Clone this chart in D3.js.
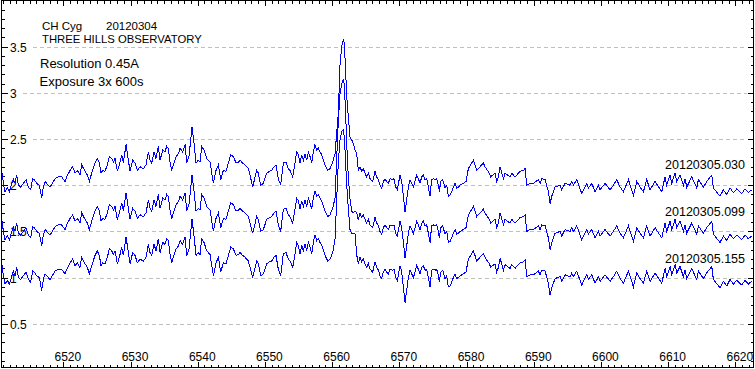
<!DOCTYPE html>
<html><head><meta charset="utf-8">
<script src="https://cdn.jsdelivr.net/npm/d3@7"></script>
<style>body{margin:0;background:#fff}svg{display:block}text{font-family:"Liberation Sans",Arial,sans-serif;fill:#000}</style>
</head><body>
<script>
// ---------- data ----------
const wavelengths = [
6510.80,6511.08,6511.32,6511.67,6511.97,6512.56,6512.81,6513.06,6513.31,6513.66,
6514.05,6514.45,6514.80,6515.14,6515.44,6515.69,6516.04,6516.43,6516.78,6517.03,
6517.28,6517.52,6518.02,6518.52,6518.76,6519.26,6519.76,6520.25,6520.50,6521.00,
6521.39,6521.74,6522.09,6522.48,6522.73,6523.23,6523.58,6523.87,6524.22,6524.72,
6525.06,6525.36,6525.61,6525.86,6526.20,6526.55,6526.85,6527.20,6527.45,6527.69,
6528.04,6528.34,6528.69,6528.93,6529.33,6529.68,6529.93,6530.32,6530.67,6531.02,
6531.41,6531.91,6532.31,6532.65,6532.90,6533.15,6533.50,6533.79,6534.14,6534.39,
6534.79,6535.13,6535.38,6535.63,6535.88,6536.13,6536.37,6536.77,6537.12,6537.37,
6537.76,6538.11,6538.36,6538.70,6538.95,6539.15,6539.45,6539.75,6540.09,6540.34,
6540.59,6540.94,6541.33,6541.83,6542.33,6542.72,6543.07,6543.42,6543.81,6544.21,
6544.56,6544.91,6545.30,6545.70,6546.05,6546.29,6546.69,6547.04,6547.53,6547.78,
6548.18,6548.77,6549.02,6549.37,6549.76,6550.26,6550.66,6551.00,6551.35,6551.65,
6551.99,6552.34,6552.74,6553.14,6553.48,6553.73,6554.13,6554.48,6554.72,6554.97,
6555.22,6555.47,6555.72,6555.96,6556.21,6556.46,6556.71,6556.96,6557.20,6557.45,
6557.70,6557.95,6558.20,6558.44,6558.94,6559.34,6559.68,
6560.08,6560.43,6560.92,6561.18,6561.43,6561.67,6561.82,6562.02,6562.17,6562.41,
6562.66,6562.92,6563.15,6563.41,6563.65,6563.90,
6564.15,6564.40,6564.64,6564.89,6565.14,6565.39,6565.64,6566.03,6566.38,6566.63,
6566.88,6567.12,6567.37,6567.62,6567.87,6568.12,6568.37,6568.61,6569.01,6569.21,
6569.46,6569.70,6570.10,6570.35,6570.60,6570.85,6571.09,6571.34,6571.59,6571.84,
6572.09,6572.33,6572.58,6572.83,6573.08,6573.33,6573.57,6573.82,6574.07,6574.32,
6574.57,6574.81,6575.06,6575.31,6575.56,6575.81,6575.95,6576.15,6576.45,6576.80,
6577.05,6577.29,6577.54,6577.79,6578.04,6578.29,6578.53,6578.78,6579.03,6579.53,
6579.92,6580.27,6580.62,6581.01,6581.26,6581.51,6582.01,6582.50,6582.75,6583.10,
6583.40,6583.59,6583.89,6584.24,6584.49,6584.74,
6584.99,6585.49,6585.73,6586.48,6586.73,6587.22,6587.97,6588.46,6588.71,6588.96,
6589.45,6589.95,6590.69,6590.94,6591.19,6591.69,6592.18,6592.43,6592.68,6593.17,
6593.92,6594.17,6594.66,6595.41,6595.65,6595.90,6596.40,6597.14,6597.89,6598.13,
6598.63,6599.13,6599.62,6599.87,6600.61,6601.36,6601.85,6602.35,6602.85,6603.34,
6604.09,6604.83,6605.33,6605.82,6606.32,6606.81,6607.31,6608.05,6609.05,6609.54,
6609.79,6610.29,6610.53,6611.03,6611.28,6611.77,6612.27,6612.52,6612.76,6613.51,
6614.25,6614.50,6615.25,6615.74,6616.49,6616.73,6617.72,6618.22,6618.72,6619.21,
6619.71,6620.21,6620.95,6621.44,6621.94,6622.44];

const spec030 = [
2.18,2.02,1.93,1.97,1.93,2.07,2.02,2.11,2.00,1.98,
2.02,2.06,1.98,1.95,2.07,2.06,2.02,2.00,1.86,1.98,
2.04,2.02,1.98,2.04,2.07,2.09,2.09,2.04,2.09,2.16,
2.20,2.13,2.16,2.11,2.22,2.15,2.11,2.04,2.13,2.24,
2.29,2.24,2.13,2.16,2.15,2.22,2.31,2.29,2.25,2.29,
2.15,2.22,2.33,2.24,2.44,2.27,2.15,2.27,2.24,2.16,
2.20,2.18,2.22,2.36,2.27,2.24,2.36,2.29,2.42,2.27,
2.38,2.36,2.42,2.40,2.25,2.16,2.22,2.31,2.34,2.40,
2.36,2.44,2.24,2.31,2.49,2.63,2.45,2.24,2.27,2.25,
2.42,2.38,2.29,2.25,2.02,2.16,2.22,2.06,2.16,2.15,
2.24,2.33,2.31,2.24,2.25,2.27,2.24,2.22,2.18,2.11,
1.98,2.16,2.13,2.00,2.02,2.13,2.15,2.16,2.20,2.22,
2.07,2.00,2.24,2.25,2.18,2.16,2.09,2.24,2.36,2.33,
2.24,2.33,2.27,2.34,2.27,2.36,2.31,2.24,2.36,2.44,
2.38,2.40,2.36,2.33,2.22,2.16,2.18,
2.25,2.34,2.78,3.32,3.50,3.58,3.54,3.21,2.96,2.74,
2.52,2.49,2.45,2.38,2.34,2.16,
2.20,2.15,2.18,2.13,2.09,2.13,2.07,2.04,2.15,2.09,
2.06,2.00,1.97,2.04,2.07,2.04,2.02,2.07,2.06,2.07,
1.98,1.95,2.11,2.04,1.88,1.71,1.84,1.98,2.06,2.02,
1.98,2.04,2.11,2.07,2.02,2.09,2.11,2.06,2.07,1.98,
1.88,2.06,2.07,2.06,2.07,2.00,1.93,2.04,2.06,1.97,
2.00,1.88,1.89,1.93,1.98,2.02,1.97,1.98,2.00,2.02,
2.04,2.18,2.22,2.27,2.22,2.16,2.20,2.24,2.20,2.16,
2.13,2.09,2.11,2.13,2.04,2.09,
2.20,2.07,2.13,2.09,2.13,2.09,2.15,2.16,2.18,2.00,
2.02,2.02,2.06,2.02,2.07,2.06,1.93,1.80,1.88,1.98,
2.00,1.95,2.02,2.00,2.04,2.00,2.06,1.91,2.02,1.97,
2.02,1.93,2.00,1.95,2.02,1.95,2.00,2.06,1.98,1.93,
2.06,1.89,2.04,1.98,1.93,2.06,1.95,2.04,1.93,2.09,
2.00,2.11,2.02,2.13,2.04,2.11,2.00,2.07,1.98,2.09,
1.97,2.06,1.98,2.04,2.11,1.97,1.88,1.95,1.90,1.97,
1.92,1.96,1.91,1.96,1.92,1.95];

const spec099 = [
1.66,1.50,1.41,1.45,1.41,1.55,1.50,1.59,1.48,1.46,
1.50,1.54,1.46,1.43,1.55,1.54,1.50,1.48,1.34,1.46,
1.52,1.50,1.46,1.52,1.55,1.57,1.57,1.52,1.57,1.64,
1.68,1.61,1.64,1.59,1.70,1.63,1.59,1.52,1.61,1.72,
1.77,1.72,1.61,1.64,1.63,1.70,1.79,1.77,1.73,1.77,
1.63,1.70,1.81,1.72,1.92,1.75,1.63,1.75,1.72,1.64,
1.68,1.66,1.70,1.84,1.75,1.72,1.84,1.77,1.90,1.75,
1.86,1.84,1.90,1.88,1.73,1.64,1.70,1.79,1.82,1.88,
1.84,1.92,1.72,1.79,1.97,2.11,1.93,1.72,1.75,1.73,
1.90,1.86,1.77,1.73,1.50,1.64,1.70,1.54,1.64,1.63,
1.72,1.81,1.79,1.72,1.73,1.75,1.72,1.70,1.66,1.59,
1.48,1.66,1.63,1.50,1.52,1.63,1.65,1.66,1.70,1.72,
1.57,1.50,1.74,1.75,1.68,1.66,1.59,1.74,1.86,1.83,
1.74,1.83,1.77,1.84,1.77,1.86,1.81,1.74,1.86,1.94,
1.88,1.90,1.86,1.83,1.72,1.66,1.68,
1.75,1.86,2.70,3.00,3.10,3.15,3.08,2.75,2.45,2.08,
1.85,1.72,1.70,1.72,1.70,1.62,
1.70,1.65,1.68,1.63,1.59,1.63,1.57,1.54,1.65,1.59,
1.56,1.50,1.47,1.54,1.57,1.54,1.52,1.57,1.56,1.57,
1.48,1.45,1.61,1.54,1.38,1.21,1.34,1.48,1.56,1.52,
1.48,1.54,1.61,1.57,1.52,1.59,1.61,1.56,1.57,1.48,
1.38,1.56,1.57,1.56,1.57,1.50,1.43,1.54,1.56,1.47,
1.50,1.38,1.39,1.43,1.48,1.52,1.47,1.48,1.50,1.52,
1.54,1.68,1.72,1.77,1.72,1.66,1.70,1.74,1.70,1.66,
1.63,1.59,1.61,1.63,1.54,1.59,
1.70,1.57,1.63,1.59,1.63,1.59,1.65,1.66,1.68,1.50,
1.52,1.52,1.56,1.52,1.57,1.56,1.43,1.30,1.38,1.48,
1.50,1.45,1.52,1.50,1.54,1.50,1.56,1.41,1.52,1.47,
1.52,1.43,1.50,1.45,1.52,1.45,1.50,1.56,1.48,1.43,
1.56,1.39,1.54,1.48,1.43,1.56,1.45,1.54,1.43,1.59,
1.50,1.61,1.52,1.63,1.54,1.61,1.50,1.57,1.48,1.59,
1.47,1.56,1.48,1.54,1.61,1.47,1.38,1.45,1.40,1.47,
1.42,1.46,1.41,1.46,1.42,1.45];

const spec155 = [
1.18,1.02,0.93,0.97,0.93,1.07,1.02,1.11,1.00,0.98,
1.02,1.06,0.98,0.95,1.07,1.06,1.02,1.00,0.86,0.98,
1.04,1.02,0.98,1.04,1.07,1.09,1.09,1.04,1.09,1.16,
1.20,1.13,1.16,1.11,1.22,1.15,1.11,1.04,1.13,1.24,
1.29,1.24,1.13,1.16,1.15,1.22,1.31,1.29,1.25,1.29,
1.15,1.22,1.33,1.24,1.44,1.27,1.15,1.27,1.24,1.16,
1.20,1.18,1.22,1.36,1.27,1.24,1.36,1.29,1.42,1.27,
1.38,1.36,1.42,1.40,1.25,1.16,1.22,1.31,1.34,1.40,
1.36,1.44,1.24,1.31,1.49,1.63,1.45,1.24,1.27,1.25,
1.42,1.38,1.29,1.25,1.02,1.16,1.22,1.06,1.16,1.15,
1.24,1.33,1.31,1.24,1.25,1.27,1.24,1.22,1.18,1.11,
1.00,1.18,1.15,1.02,1.04,1.15,1.17,1.18,1.22,1.24,
1.09,1.02,1.26,1.27,1.20,1.18,1.11,1.26,1.38,1.35,
1.26,1.35,1.29,1.36,1.29,1.38,1.33,1.26,1.38,1.46,
1.40,1.42,1.38,1.35,1.24,1.18,1.20,
1.27,1.42,2.25,2.50,2.58,2.60,2.52,2.22,2.00,1.75,
1.52,1.48,1.48,1.47,1.25,1.15,
1.22,1.17,1.20,1.15,1.11,1.15,1.09,1.06,1.17,1.11,
1.08,1.02,0.99,1.06,1.09,1.06,1.04,1.09,1.08,1.09,
1.00,0.97,1.13,1.06,0.90,0.73,0.86,1.00,1.08,1.04,
1.00,1.06,1.13,1.09,1.04,1.11,1.13,1.08,1.09,1.00,
0.90,1.08,1.09,1.08,1.09,1.02,0.95,1.06,1.08,0.99,
1.02,0.90,0.91,0.95,1.00,1.04,0.99,1.00,1.02,1.04,
1.06,1.20,1.24,1.29,1.24,1.18,1.22,1.26,1.22,1.18,
1.15,1.11,1.13,1.15,1.06,1.11,
1.21,1.08,1.14,1.10,1.14,1.10,1.16,1.17,1.19,1.01,
1.03,1.03,1.07,1.03,1.08,1.07,0.94,0.81,0.89,0.99,
1.01,0.96,1.03,1.01,1.05,1.01,1.07,0.92,1.03,0.98,
1.03,0.94,1.01,0.96,1.03,0.96,1.01,1.07,0.99,0.94,
1.07,0.90,1.05,0.99,0.94,1.07,0.96,1.05,0.94,1.10,
1.01,1.12,1.03,1.14,1.05,1.12,1.01,1.08,0.99,1.10,
0.98,1.07,0.99,1.05,1.12,0.98,0.89,0.96,0.91,0.98,
0.93,0.97,0.92,0.97,0.93,0.96];

const seriesNames = ["20120305.030", "20120305.099", "20120305.155"];
const xTickValues = [6520, 6530, 6540, 6550, 6560, 6570, 6580, 6590, 6600, 6610, 6620];
const yTickValues = [0.5, 1, 1.5, 2, 2.5, 3, 3.5];
const headerLines = ["CH Cyg", "20120304", "THREE HILLS OBSERVATORY", "Resolution 0.45A", "Exposure 3x 600s"];

// ---------- layout ----------
const W = 755, H = 369;
const L = 1.5, R = 753.5, T = 0.5, B = 367.5;
const x = d3.scaleLinear().domain([6510.8, 6622.7]).range([L, R]);
const y = d3.scaleLinear().domain([0, 4]).range([370, 0.4]);

const svg = d3.select("body").append("svg").attr("width", W).attr("height", H);
svg.append("defs").append("clipPath").attr("id", "plot")
  .append("rect").attr("x", L).attr("y", T).attr("width", R - L).attr("height", B - T);

// gridlines + y labels
const gridG = svg.append("g");
const ylab = svg.append("g").attr("font-size", "12px");
yTickValues.forEach(v => {
  const t = ylab.append("text").attr("x", 10).attr("y", Math.round(y(v)) + 4.5).text(String(v));
  const w = t.node().getComputedTextLength();
  const yy = Math.round(y(v)) + 0.5;
  gridG.append("line").attr("x1", 10 + w + 6).attr("x2", 747).attr("y1", yy).attr("y2", yy)
    .attr("stroke", "#c0c0c0").attr("stroke-dasharray", "4,3").attr("shape-rendering", "crispEdges");
});

// x labels
svg.append("g").attr("clip-path", "url(#plot)").attr("font-size", "12px")
  .selectAll("text").data(xTickValues).join("text")
  .attr("x", d => x(d) + 4.5).attr("y", 361).attr("text-anchor", "middle").text(d => d);

// ticks via d3 axes
const minorX = d3.range(6511, 6623).filter(d => d % 10 !== 0);
const minorY = d3.range(1, 40).map(i => i / 10).filter(d => Math.round(d * 10) % 5 !== 0);
const majorY = [0.5, 1, 1.5, 2, 2.5, 3, 3.5];
function tickAxis(axis, tx, ty) {
  const g = svg.append("g").attr("transform", `translate(${tx},${ty})`).call(axis);
  g.select(".domain").remove();
  g.selectAll("line").attr("stroke", "#000").attr("shape-rendering", "crispEdges");
  g.selectAll("text").remove();
}
tickAxis(d3.axisBottom(x).tickValues(xTickValues).tickSize(-6).tickFormat(""), 0, B);
tickAxis(d3.axisBottom(x).tickValues(minorX).tickSize(-3).tickFormat(""), 0, B);
tickAxis(d3.axisTop(x).tickValues(xTickValues).tickSize(-5).tickFormat(""), 0, T);
tickAxis(d3.axisTop(x).tickValues(minorX).tickSize(-3).tickFormat(""), 0, T);
tickAxis(d3.axisLeft(y).tickValues(majorY).tickSize(-6).tickFormat(""), L, 0);
tickAxis(d3.axisLeft(y).tickValues(minorY).tickSize(-3).tickFormat(""), L, 0);
tickAxis(d3.axisRight(y).tickValues(majorY).tickSize(-6).tickFormat(""), R, 0);
tickAxis(d3.axisRight(y).tickValues(minorY).tickSize(-3).tickFormat(""), R, 0);

// header text
const hd = svg.append("g");
hd.append("text").attr("x", 42).attr("y", 30).attr("font-size", "11.5px").text(headerLines[0]);
hd.append("text").attr("x", 106).attr("y", 30).attr("font-size", "11.5px").text(headerLines[1]);
hd.append("text").attr("x", 42).attr("y", 42.5).attr("font-size", "11.3px").text(headerLines[2]);
hd.append("text").attr("x", 40).attr("y", 68).attr("font-size", "13px").text(headerLines[3]);
hd.append("text").attr("x", 39.5).attr("y", 86).attr("font-size", "13px").text(headerLines[4]);

// series labels
const labelY = [169, 215.5, 262.5];
svg.append("g").attr("font-size", "12.5px").selectAll("text").data(seriesNames).join("text")
  .attr("x", 745).attr("y", (d, i) => labelY[i]).attr("text-anchor", "end").text(d => d);

// spectra
const line = d3.line().x(d => x(d[0])).y(d => y(d[1]));
const series = [spec030, spec099, spec155];
svg.append("g").attr("clip-path", "url(#plot)").selectAll("path")
  .data(series.map(s => wavelengths.map((l, i) => [l, s[i]])))
  .join("path").attr("d", line).attr("fill", "none").attr("stroke", "#0000ff")
  .attr("stroke-width", 1).attr("stroke-linejoin", "miter").attr("shape-rendering", "crispEdges");

// frame
svg.append("rect").attr("x", L).attr("y", T).attr("width", R - L).attr("height", B - T)
  .attr("fill", "none").attr("stroke", "#000").attr("shape-rendering", "crispEdges");
</script>
</body></html>
